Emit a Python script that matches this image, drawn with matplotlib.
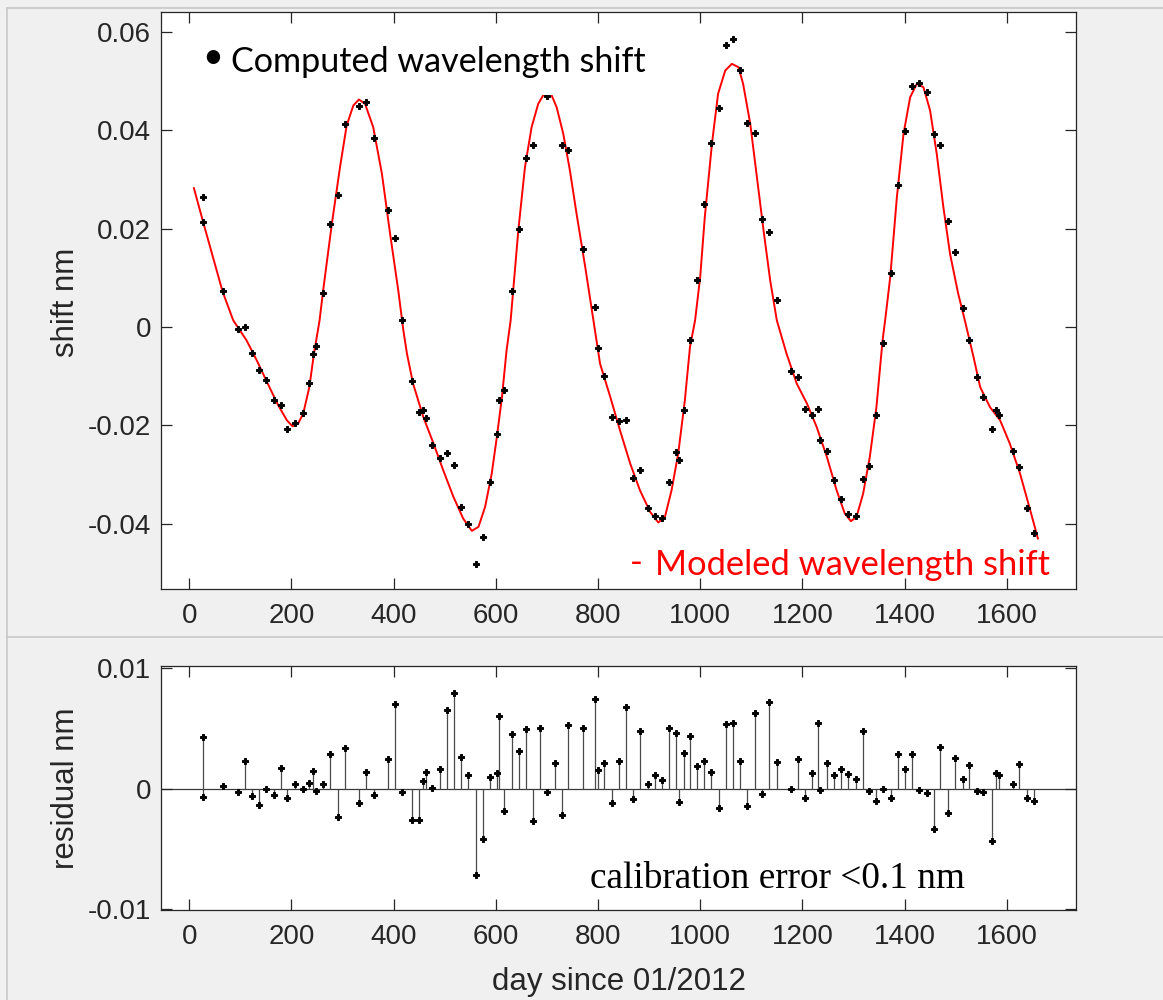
import numpy as np
import matplotlib
matplotlib.use("Agg")
import matplotlib.pyplot as plt
from matplotlib.patches import Rectangle
from matplotlib.lines import Line2D

plt.rcParams["axes.unicode_minus"] = False
plt.rcParams["font.family"] = ["Liberation Sans", "DejaVu Sans"]

# ---- data ----
day = [26, 27, 65, 95, 109, 122, 136, 151, 165, 179, 192, 206, 222, 235, 242,
       248, 261, 275, 292, 305, 332, 346, 361, 388, 403, 416, 435, 449, 457, 463,
       476, 491, 505, 519, 532, 546, 561, 575, 589, 602, 607, 616, 631, 645, 659,
       672, 686, 700, 715, 729, 742, 771, 794, 799, 812, 828, 842, 855, 869, 882,
       898, 912, 925, 938, 953, 958, 968, 981, 994, 1008, 1022, 1037, 1051, 1065,
       1078, 1092, 1107, 1121, 1135, 1150, 1178, 1192, 1206, 1219, 1230, 1234,
       1248, 1262, 1275, 1289, 1304, 1318, 1331, 1345, 1358, 1374, 1388, 1401,
       1415, 1429, 1444, 1458, 1470, 1485, 1499, 1515, 1527, 1541, 1554, 1571,
       1579, 1584, 1612, 1625, 1640, 1654]

shift = [0.02637, 0.02143, 0.00726, -0.00030, 0.00000, -0.00529, -0.00867,
         -0.01084, -0.01490, -0.01592, -0.02066, -0.01944, -0.01748, -0.01145,
         -0.00555, -0.00392, 0.00699, 0.02100, 0.02677, 0.04141, 0.04501, 0.04574,
         0.03850, 0.02387, 0.01809, 0.00150, -0.01104, -0.01720, -0.01693,
         -0.01850, -0.02400, -0.02655, -0.02553, -0.02805, -0.03659, -0.04011,
         -0.04824, -0.04269, -0.03143, -0.02181, -0.01490, -0.01273, 0.00726,
         0.01992, 0.03444, 0.03700, 0.05150, 0.04700, 0.04860, 0.03714, 0.03592,
         0.01594, 0.00407, -0.00427, -0.01002, -0.01830, -0.01911, -0.01883,
         -0.03062, -0.02913, -0.03692, -0.03842, -0.03883, -0.03163, -0.02547,
         -0.02710, -0.01680, -0.00256, 0.00964, 0.02509, 0.03741, 0.04460,
         0.05741, 0.05863, 0.05233, 0.04147, 0.03952, 0.02204, 0.01931, 0.00557,
         -0.00894, -0.01023, -0.01659, -0.01781, -0.01659, -0.02289, -0.02527,
         -0.03117, -0.03503, -0.03794, -0.03842, -0.03082, -0.02826, -0.01781,
         -0.00325, 0.01098, 0.02895, 0.03979, 0.04914, 0.04961, 0.04778, 0.03932,
         0.03714, 0.02155, 0.01525, 0.00386, -0.00256, -0.01016, -0.01423,
         -0.02080, -0.01693, -0.01781, -0.02527, -0.02846, -0.03680, -0.04188]

residual = [0.00430, -0.00072, 0.00022, -0.00028, 0.00230, -0.00061, -0.00133,
            -0.00003, -0.00053, 0.00172, -0.00080, 0.00042, -0.00003, 0.00050,
            0.00144, -0.00022, 0.00042, 0.00291, -0.00236, 0.00338, -0.00116,
            0.00136, -0.00055, 0.00249, 0.00701, -0.00028, -0.00263, -0.00263,
            0.00067, 0.00136, 0.00008, 0.00163, 0.00657, 0.00795, 0.00266, 0.00111,
            -0.00715, -0.00421, 0.00100, 0.00127, 0.00604, -0.00186, 0.00457,
            0.00310, 0.00493, -0.00272, 0.00502, -0.00028, 0.00213, -0.00219,
            0.00527, 0.00502, 0.00743, 0.00152, 0.00213, -0.00116, 0.00230,
            0.00679, -0.00089, 0.00477, 0.00036, 0.00111, 0.00069, 0.00507,
            0.00466, -0.00108, 0.00299, 0.00438, 0.00188, 0.00230, 0.00136,
            -0.00158, 0.00535, 0.00543, 0.00230, -0.00144, 0.00629, -0.00044,
            0.00718, 0.00222, -0.00003, 0.00249, -0.00080, 0.00130, 0.00543,
            -0.00011, 0.00216, 0.00111, 0.00161, 0.00125, 0.00083, 0.00477,
            -0.00022, -0.00100, 0.00000, -0.00080, 0.00285, 0.00166, 0.00285,
            -0.00011, -0.00039, -0.00335, 0.00344, -0.00202, 0.00258, 0.00078,
            0.00194, -0.00022, -0.00028, -0.00432, 0.00133, 0.00111, 0.00042,
            0.00205, -0.00080, -0.00100]

model_day = [9, 27, 65, 86, 112, 132, 152, 174, 191, 202, 213, 223, 235, 244,
             255, 262, 279, 295, 308, 321, 332, 344, 360, 377, 393, 409, 419,
             426, 438, 458, 478, 497, 517, 536, 553, 566, 579, 592, 602, 612,
             621, 629, 644, 657, 670, 683, 693, 701, 709, 719, 732, 745, 758,
             775, 788, 804, 824, 843, 863, 882, 902, 918, 931, 944, 957, 970,
             980, 990, 1000, 1009, 1023, 1035, 1049, 1062, 1075, 1084, 1098,
             1111, 1124, 1137, 1150, 1169, 1189, 1209, 1228, 1248, 1267, 1283,
             1295, 1306, 1319, 1332, 1345, 1357, 1362, 1372, 1385, 1398, 1411,
             1424, 1437, 1450, 1463, 1476, 1489, 1505, 1518, 1535, 1548, 1567,
             1587, 1606, 1626, 1646, 1661]

model_shift = [0.02826, 0.02140, 0.00726, 0.00136, -0.00270, -0.00677, -0.01118,
               -0.01592, -0.01897, -0.02019, -0.01964, -0.01761, -0.01220,
               -0.00541, 0.00136, 0.00746, 0.02100, 0.03253, 0.04100, 0.04507,
               0.04629, 0.04542, 0.04066, 0.03119, 0.01899, 0.00746, -0.00067,
               -0.00541, -0.01151, -0.01830, -0.02370, -0.02913, -0.03456,
               -0.03895, -0.04147, -0.04066, -0.03659, -0.02980, -0.02236,
               -0.01423, -0.00474, 0.00136, 0.01966, 0.03253, 0.04066, 0.04542,
               0.04720, 0.04800, 0.04720, 0.04473, 0.03932, 0.03186, 0.02305,
               0.01220, 0.00340, -0.00745, -0.01423, -0.02100, -0.02777, -0.03320,
               -0.03761, -0.03977, -0.03863, -0.03320, -0.02574, -0.01490,
               -0.00407, 0.00136, 0.01017, 0.02236, 0.03728, 0.04745, 0.05219,
               0.05355, 0.05286, 0.04948, 0.04135, 0.03050, 0.01966, 0.00949,
               0.00136, -0.00541, -0.01151, -0.01557, -0.02033, -0.02643,
               -0.03320, -0.03794, -0.03950, -0.03863, -0.03387, -0.02643,
               -0.01626, -0.00270, 0.00136, 0.01017, 0.02643, 0.03932, 0.04676,
               0.04948, 0.04879, 0.04406, 0.03525, 0.02440, 0.01492, 0.00679,
               0.00136, -0.00610, -0.01220, -0.01626, -0.01897, -0.02370,
               -0.02980, -0.03727, -0.04302]

day_ticks = [0, 200, 400, 600, 800, 1000, 1200, 1400, 1600]
shift_ticks = [-0.04, -0.02, 0, 0.02, 0.04, 0.06]
shift_tick_labels = ["-0.04", "-0.02", "0", "0.02", "0.04", "0.06"]
resid_ticks = [-0.01, 0, 0.01]
resid_tick_labels = ["-0.01", "0", "0.01"]

W, H = 1163, 1000
fig = plt.figure(figsize=(W / 100, H / 100), dpi=100, facecolor="#f0f0f0")


def px_box(left, top, right, bottom):
    return [left / W, 1 - bottom / H, (right - left) / W, (bottom - top) / H]


def fx(x):
    return x / W


def fy(y):
    return 1 - y / H


ax1 = fig.add_axes(px_box(161, 12, 1076, 589))
ax2 = fig.add_axes(px_box(161, 666, 1076, 910))

for ax in (ax1, ax2):
    ax.set_facecolor("white")
    for s in ax.spines.values():
        s.set_color("#262626")
        s.set_linewidth(0.9)
    ax.tick_params(direction="in", length=8, width=0.9, color="#262626",
                   labelcolor="#262626", labelsize=20, top=True, right=True)
    ax.tick_params(axis="x", pad=10)
    ax.tick_params(axis="y", pad=7)
    ax.set_xlim(-55.4, 1735.6)
    ax.set_xticks(day_ticks)
    ax.set_xticklabels([str(t) for t in day_ticks])

# top panel: computed vs modeled shift
ax1.set_ylim(-0.0533, 0.0641)
ax1.set_yticks(shift_ticks)
ax1.set_yticklabels(shift_tick_labels)
ax1.plot(model_day, model_shift, color="#ff0000", lw=1.4, zorder=2)
ax1.plot(day, shift, "P", ms=4.8, color="black", mec="black", mew=0.7,
         zorder=3)
ax1.add_patch(Rectangle((21, 0.0473), 890, 0.0142, facecolor="white",
                        edgecolor="none", zorder=4))

# bottom panel: residuals
ax2.set_ylim(-0.0101, 0.0102)
ax2.set_yticks(resid_ticks)
ax2.set_yticklabels(resid_tick_labels)
ax2.axhline(0, color="#3a3a3a", lw=0.9, zorder=1)
ax2.vlines(day, 0, residual, color="#4a4a4a", lw=0.9, zorder=2)
ax2.plot(day, residual, "P", ms=4.8, color="black", mec="black", mew=0.7,
         zorder=3)

# annotations
fig.text(fx(213), fy(57), "\u2022", fontsize=26, family="Lato",
         ha="center", va="center", color="black")
fig.text(fx(231), fy(72), "Computed wavelength shift", fontsize=24.6,
         family="Lato", ha="left", va="baseline", color="black", zorder=6)
fig.text(fx(636), fy(563), "-", fontsize=25, family="Lato",
         ha="center", va="center", color="#ff0000", zorder=6)
fig.text(fx(655), fy(575), "Modeled wavelength shift", fontsize=24.8,
         family="Lato", ha="left", va="baseline", color="#ff0000", zorder=6)
fig.text(fx(590), fy(888), "calibration error <0.1 nm", fontsize=26.8,
         family="Liberation Serif", ha="left", va="baseline", color="black")

fig.text(fx(66), fy(302), "shift nm", fontsize=22.5, rotation=90,
         ha="center", va="center", color="#262626")
fig.text(fx(66), fy(788), "residual nm", fontsize=22.5, rotation=90,
         ha="center", va="center", color="#262626")
fig.text(fx(619), fy(982), "day since 01/2012", fontsize=22.5,
         ha="center", va="center", color="#262626")

# panel borders of the composite
for xs, ys in [([7, 7], [8, 1000]), ([7, W], [8, 8]), ([7, W], [637, 637])]:
    fig.add_artist(Line2D([fx(v) for v in xs], [fy(v) for v in ys],
                          color="#c8c8c8", lw=1.2))

fig.savefig("out.png", dpi=100, facecolor=fig.get_facecolor())
